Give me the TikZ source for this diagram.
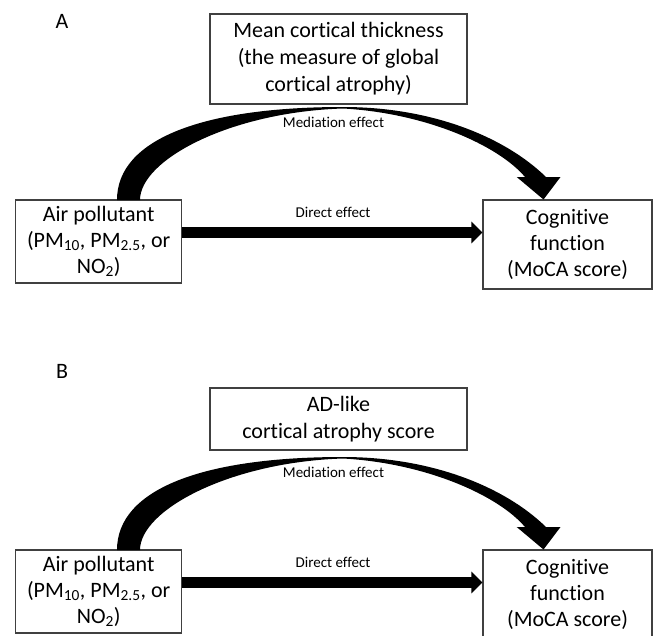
\documentclass[tikz,border=0pt]{standalone}
\usepackage{fontspec}
\setmainfont{Carlito}[Ligatures={NoCommon}]
\usetikzlibrary{arrows.meta}
\begin{document}
\begin{tikzpicture}[x=1pt,y=-1pt,
  box/.style={draw=black!75, line width=1.1pt, inner sep=0pt, align=center,
    font=\fontsize{22}{26}\selectfont},
  topbox/.style={box, font=\fontsize{22}{27}\selectfont},
  lab/.style={font=\fontsize{15}{18}\selectfont, inner sep=0pt},
  panellab/.style={font=\fontsize{22}{26}\selectfont, inner sep=0pt},
  direct/.style={line width=11.5pt, -{Triangle[length=11pt,width=21pt]}},
  medarrow/.pic={
    \fill (117,200) .. controls (117,139) and (203,107) .. (343,107)
      .. controls (432,107) and (505,137) .. (546,177)
      -- (560.5,177) -- (543.5,199.5) -- (516.7,177) -- (525,177)
      .. controls (498,145) and (425,113) .. (343,108.5)
      .. controls (230,112) and (140,160) .. (140,200) -- cycle;
  }
]
\clip (0,0) rectangle (655,635);
% ---------- Panel A ----------
\node[panellab] (labA) at (62,21) {A};
\node[topbox, minimum width=257pt, minimum height=90pt] (mA) at (338.5,59)
  {Mean cortical thickness\\(the measure of global\\cortical atrophy)};
\node[box, minimum width=166pt, minimum height=83pt] (apA) at (98.7,241.5)
  {Air pollutant\\(PM\textsubscript{10}, PM\textsubscript{2.5}, or\\NO\textsubscript{2})};
\node[box, minimum width=169pt, minimum height=89pt] (cfA) at (567.5,244.5)
  {Cognitive\\function\\(MoCA score)};
\pic at (0,0) {medarrow};
\node[lab] (meA) at (333.5,122) {Mediation effect};
\node[lab] (deA) at (333,212) {Direct effect};
\draw[direct] ([yshift=9pt]apA.east) -- ([yshift=12pt]cfA.west);
% ---------- Panel B ----------
\node[panellab] (labB) at (62,371) {B};
\node[topbox, minimum width=257pt, minimum height=62pt] (mB) at (338.5,419)
  {AD-like\\cortical atrophy score};
\node[box, minimum width=166pt, minimum height=83pt] (apB) at (98.7,591.5)
  {Air pollutant\\(PM\textsubscript{10}, PM\textsubscript{2.5}, or\\NO\textsubscript{2})};
\node[box, minimum width=169pt, minimum height=89pt] (cfB) at (567.5,594.5)
  {Cognitive\\function\\(MoCA score)};
\pic at (0,350) {medarrow};
\node[lab] (meB) at (333.5,472) {Mediation effect};
\node[lab] (deB) at (333,562) {Direct effect};
\draw[direct] ([yshift=9pt]apB.east) -- ([yshift=12pt]cfB.west);
\end{tikzpicture}
\end{document}
